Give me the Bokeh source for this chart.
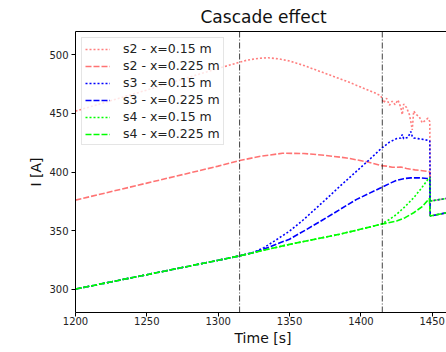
from bokeh.plotting import figure
from bokeh.models import Span, LinearAxis, FixedTicker, Title, Range1d
from bokeh.embed import file_html
from bokeh.resources import INLINE

FONT = "DejaVu Sans"

# ---------------- data ----------------
x_ticks = [1200, 1250, 1300, 1350, 1400, 1450]
y_ticks = [300, 350, 400, 450, 500]
event_times = [1315, 1415]

labels = ["s2 - x=0.15 m", "s2 - x=0.225 m", "s3 - x=0.15 m",
          "s3 - x=0.225 m", "s4 - x=0.15 m", "s4 - x=0.225 m"]

s2_015_t = [1200, 1250, 1300, 1310, 1320, 1328, 1335, 1343, 1350, 1360, 1370, 1380,
            1390, 1400, 1410, 1414, 1416, 1418, 1420, 1422, 1424, 1426, 1428, 1429,
            1430, 1432, 1434, 1435, 1436, 1437, 1439, 1441, 1443, 1445, 1447, 1448.3,
            1448.6, 1460]
s2_015_y = [452, 470, 488.5, 492, 495.5, 497, 497.6, 496.5, 494.8, 491, 486.5, 482,
            477.5, 472.5, 467.5, 465, 459, 463, 457, 460.5, 457.5, 461.5, 455, 449,
            458, 455, 449, 443, 436, 452, 449, 447, 442, 444, 446, 443,
            375.2, 377.4]

s2_0225_t = [1200, 1250, 1300, 1315, 1330, 1345, 1360, 1375, 1390, 1405, 1414, 1418,
             1422, 1428, 1432, 1438, 1447, 1448.3, 1448.6, 1460]
s2_0225_y = [376, 390.5, 405, 409.8, 413.5, 416, 415.8, 414.2, 412, 408.5, 405.5, 405,
             404, 404.2, 403, 401.8, 400.5, 400, 362.4, 365.2]

s3_015_t = [1200, 1250, 1300, 1315, 1325, 1332, 1340, 1350, 1360, 1374, 1385, 1397,
            1405, 1414, 1420, 1425, 1428, 1429, 1430, 1433, 1435, 1436, 1437, 1440,
            1444, 1447.5, 1448.3, 1448.6, 1460]
s3_015_y = [300, 312.3, 324.6, 328.4, 331.5, 335.4, 341.5, 349.5, 359.5, 375, 387.5, 400.7,
            409.5, 419.8, 425.5, 428.5, 429, 432, 428.5, 429.5, 434.5, 430.5, 429, 428.5,
            427.8, 426.8, 426.5, 375.2, 377.4]

s3_0225_t = [1200, 1250, 1300, 1315, 1325, 1335, 1342, 1350, 1362, 1374, 1386, 1397,
             1405, 1414, 1421, 1425, 1430, 1435, 1441, 1446.4, 1448.3, 1448.6, 1460]
s3_0225_y = [300, 312.3, 324.6, 328.4, 331.3, 335.5, 339, 342.6, 351, 359.6, 368.5, 376.6,
             381.3, 386.5, 390.7, 392.8, 394.3, 395, 395, 394.5, 394, 362.4, 365.2]

s4_015_t = [1200, 1250, 1300, 1315, 1350, 1385, 1414, 1420, 1425, 1431, 1437, 1442,
            1447.5, 1448.3, 1448.6, 1460]
s4_015_y = [300, 312.3, 324.6, 328.4, 338.2, 346.8, 355.3, 359.5, 363.8, 370.5, 378, 385.5,
            394.5, 395, 375.2, 377.4]

s4_0225_t = [1200, 1250, 1300, 1315, 1350, 1385, 1414, 1425, 1431, 1437, 1443, 1448,
             1448.6, 1460]
s4_0225_y = [300, 312.3, 324.6, 328.4, 338.2, 346.8, 355.3, 358.1, 361, 365.2, 370.5, 377.4,
             362.4, 365.2]

# ---------------- figure ----------------
p = figure(width=446, height=352, output_backend="svg", toolbar_location=None,
           x_range=Range1d(1200, 1460), y_range=Range1d(280, 520),
           min_border_left=75, min_border_right=0, min_border_top=30, min_border_bottom=40)
p.outline_line_color = None
p.grid.visible = False
p.background_fill_color = "white"
p.border_fill_color = "white"

p.title.text = "Cascade effect"
p.title.text_font = FONT
p.title.text_font_size = "17px"
p.title.text_font_style = "normal"
p.title.text_color = "#111111"
p.title.align = "left"
p.title.offset = 125
p.title.standoff = 9

xb = p.xaxis[0]
yl = p.yaxis[0]
for ax in (xb, yl):
    ax.axis_line_color = "black"
    ax.major_tick_line_color = "black"
    ax.major_tick_out = 4
    ax.major_tick_in = 0
    ax.minor_tick_out = 0
    ax.minor_tick_in = 0
    ax.major_label_text_font = FONT
    ax.major_label_text_font_size = "10px"
    ax.major_label_text_color = "#222222"

xb.ticker = FixedTicker(ticks=x_ticks)
yl.ticker = FixedTicker(ticks=y_ticks)
xb.major_label_standoff = 0
yl.major_label_standoff = 3

yl.axis_label = "I [A]"
yl.axis_label_text_font = FONT
yl.axis_label_text_font_size = "14px"
yl.axis_label_text_font_style = "normal"
yl.axis_label_text_color = "#111111"
yl.axis_label_standoff = 2

# top frame line
top = LinearAxis(ticker=FixedTicker(ticks=[]), major_label_text_font_size="0px",
                 major_tick_out=0, major_tick_in=0, minor_tick_out=0, minor_tick_in=0,
                 major_label_standoff=0, axis_line_color="black", axis_line_width=1)
p.add_layout(top, "above")

p.add_layout(Title(text="Time [s]", align="left", offset=159, text_font=FONT,
                   text_font_size="14px", text_font_style="normal",
                   text_color="#111111", standoff=0), "below")

# event lines
for t in event_times:
    p.add_layout(Span(location=t, dimension="height", line_color="black", line_alpha=0.75,
                      line_width=1, line_dash="6 2 1 2"))

DOT = "2 2"
DASH = "6 2"
series = [
    (s2_015_t, s2_015_y, "red", 0.5, DOT),
    (s2_0225_t, s2_0225_y, "red", 0.55, DASH),
    (s3_015_t, s3_015_y, "blue", 1.0, DOT),
    (s3_0225_t, s3_0225_y, "blue", 1.0, DASH),
    (s4_015_t, s4_015_y, "lime", 1.0, DOT),
    (s4_0225_t, s4_0225_y, "lime", 1.0, DASH),
]
for (t, y, c, a, d), lab in zip(series, labels):
    p.line(t, y, line_color=c, line_alpha=a, line_dash=d, line_width=1.6, legend_label=lab)

lg = p.legend[0]
lg.location = "top_left"
lg.margin = 6
lg.padding = 3
lg.spacing = 2
lg.label_height = 14
lg.glyph_height = 14
lg.glyph_width = 25
lg.label_standoff = 13
lg.label_text_font = FONT
lg.label_text_font_size = "12.5px"
lg.label_text_color = "#222222"
lg.border_line_color = "#cccccc"
lg.border_line_width = 1
lg.background_fill_alpha = 0.8

open("out.html", "w").write(file_html(p, INLINE))
